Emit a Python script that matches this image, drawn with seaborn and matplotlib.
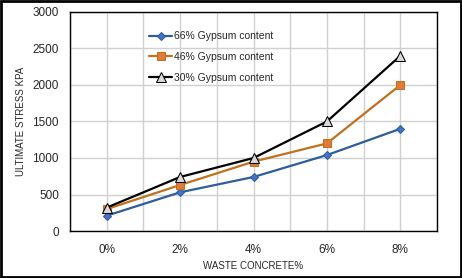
import numpy as np
import pandas as pd
import matplotlib
matplotlib.use("Agg")
import matplotlib.pyplot as plt
import seaborn as sns
from matplotlib.patches import Rectangle

categories = ["0%", "2%", "4%", "6%", "8%"]
gyp66 = [210, 530, 740, 1040, 1400]
gyp46 = [300, 630, 950, 1200, 2000]
gyp30 = [320, 740, 1000, 1500, 2400]
series_names = ["66% Gypsum content", "46% Gypsum content", "30% Gypsum content"]

df = pd.DataFrame({
    "cat": categories * 3,
    "x": list(range(len(categories))) * 3,
    "val": gyp66 + gyp46 + gyp30,
    "series": sum([[s] * len(categories) for s in series_names], []),
})

sns.set_style("white")
plt.rcParams["font.family"] = ["Liberation Sans", "DejaVu Sans"]

fig = plt.figure(figsize=(4.62, 2.78), dpi=100)
ax = fig.add_axes([0.1515, 0.169, 0.7945, 0.788])

line_cols = {"66% Gypsum content": "#2E5D9A",
             "46% Gypsum content": "#C0701E",
             "30% Gypsum content": "#000000"}
styles = {"66% Gypsum content": dict(marker="D", ms=4.5, mfc="#4472C4", mec="#2E5D9A"),
          "46% Gypsum content": dict(marker="s", ms=5.5, mfc="#E07B39", mec="#C0701E"),
          "30% Gypsum content": dict(marker="^", ms=6.5, mfc="#D9D9D9", mec="#000000")}

for s in series_names:
    sub = df[df.series == s]
    sns.lineplot(data=sub, x="x", y="val", ax=ax, color=line_cols[s], lw=1.6,
                 label=s, **styles[s])

ax.set_xlim(-0.5, len(categories) - 0.5)
ax.set_ylim(0, 3000)
ax.set_yticks(np.arange(0, 3001, 500))
ax.set_xticks(range(len(categories)))
ax.set_xticklabels(categories, fontsize=8.5)
ax.set_xticks(np.arange(-0.5, len(categories), 0.5), minor=True)
ax.grid(True, which="both", axis="x", color="#D0D0D0", lw=1)
ax.grid(True, axis="y", color="#D0D0D0", lw=1)
ax.tick_params(axis="y", labelsize=8.5, length=0, pad=8)
ax.tick_params(axis="x", which="both", length=0, pad=9)
for sp in ax.spines.values():
    sp.set_color("#000000")
    sp.set_linewidth(1)

ax.set_xlabel("WASTE CONCRETE%", fontsize=7)
ax.set_ylabel("ULTIMATE STRESS KPA", fontsize=7)
ax.xaxis.set_label_coords(0.5, -0.135)
ax.yaxis.set_label_coords(-0.12, 0.5)

leg = ax.legend(loc="upper left", bbox_to_anchor=(0.19, 0.955), frameon=False,
                fontsize=7.5, handlelength=2.2, labelspacing=1.05, handletextpad=0.2)

fig.patches.append(Rectangle((0.003, 0.005), 0.994, 0.99, transform=fig.transFigure,
                             fill=False, edgecolor="black", lw=2))

fig.savefig("out.png", dpi=100)
